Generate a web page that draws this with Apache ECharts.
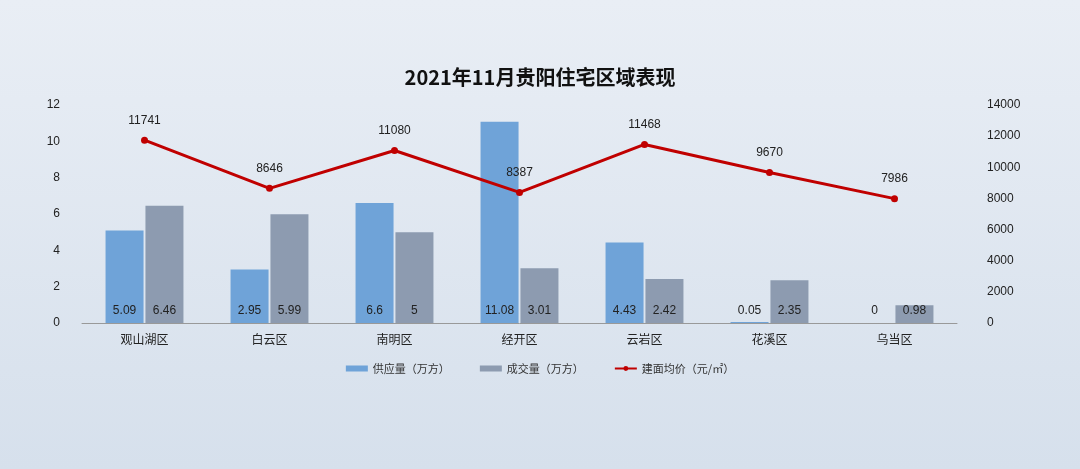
<!DOCTYPE html><html><head><meta charset="utf-8"><script src="https://cdn.jsdelivr.net/npm/echarts@6/dist/echarts.min.js"></script>
<style>html,body{margin:0;padding:0}#c{width:1080px;height:469px;background:linear-gradient(180deg,#e9eef5 0%,#d6e0ec 100%)}</style></head><body><div id="c"></div><script>
const categories=['观山湖区','白云区','南明区','经开区','云岩区','花溪区','乌当区'];
const supply=[5.09,2.95,6.6,11.08,4.43,0.05,0];
const deals=[6.46,5.99,5,3.01,2.42,2.35,0.98];
const price=[11741,8646,11080,8387,11468,9670,7986];
const ch=echarts.init(document.getElementById('c'));
const lbl={show:true,position:'insideBottom',color:'#222',fontSize:12,distance:6};
ch.setOption({
title:{text:'2021年11月贵阳住宅区域表现',left:'center',top:62,textStyle:{fontSize:20,fontWeight:'bold',color:'#111',fontFamily:'Noto Sans CJK SC'}},
legend:{bottom:90,itemGap:30,textStyle:{fontSize:11,color:'#333',fontFamily:'Noto Sans CJK SC'},data:[{name:'供应量（万方）',icon:'rect'},{name:'成交量（万方）',icon:'rect'},{name:'建面均价（元/㎡）'}],itemWidth:22,itemHeight:6},
grid:{left:82,right:123,top:105,bottom:146},
xAxis:{type:'category',data:categories,axisTick:{show:false},axisLine:{lineStyle:{color:'#999'}},axisLabel:{color:'#222',fontSize:12,fontFamily:'Noto Sans CJK SC',margin:10}},
yAxis:[{type:'value',min:0,max:12,interval:2,splitLine:{show:false},axisLabel:{color:'#222',fontSize:12,margin:22}},
{type:'value',min:0,max:14000,interval:2000,splitLine:{show:false},axisLabel:{color:'#222',fontSize:12,margin:30,formatter:v=>String(v)}}],
series:[
{name:'供应量（万方）',type:'bar',data:supply,barWidth:38,barGap:'5%',itemStyle:{color:'#6fa3d8'},label:lbl},
{name:'成交量（万方）',type:'bar',data:deals,barWidth:38,itemStyle:{color:'#8d9bb0'},label:lbl},
{name:'建面均价（元/㎡）',type:'line',yAxisIndex:1,data:price,symbol:'circle',symbolSize:7,lineStyle:{color:'#c00000',width:3},itemStyle:{color:'#c00000'},label:{show:true,position:'top',color:'#222',fontSize:12,distance:10}}
]});
</script></body></html>
